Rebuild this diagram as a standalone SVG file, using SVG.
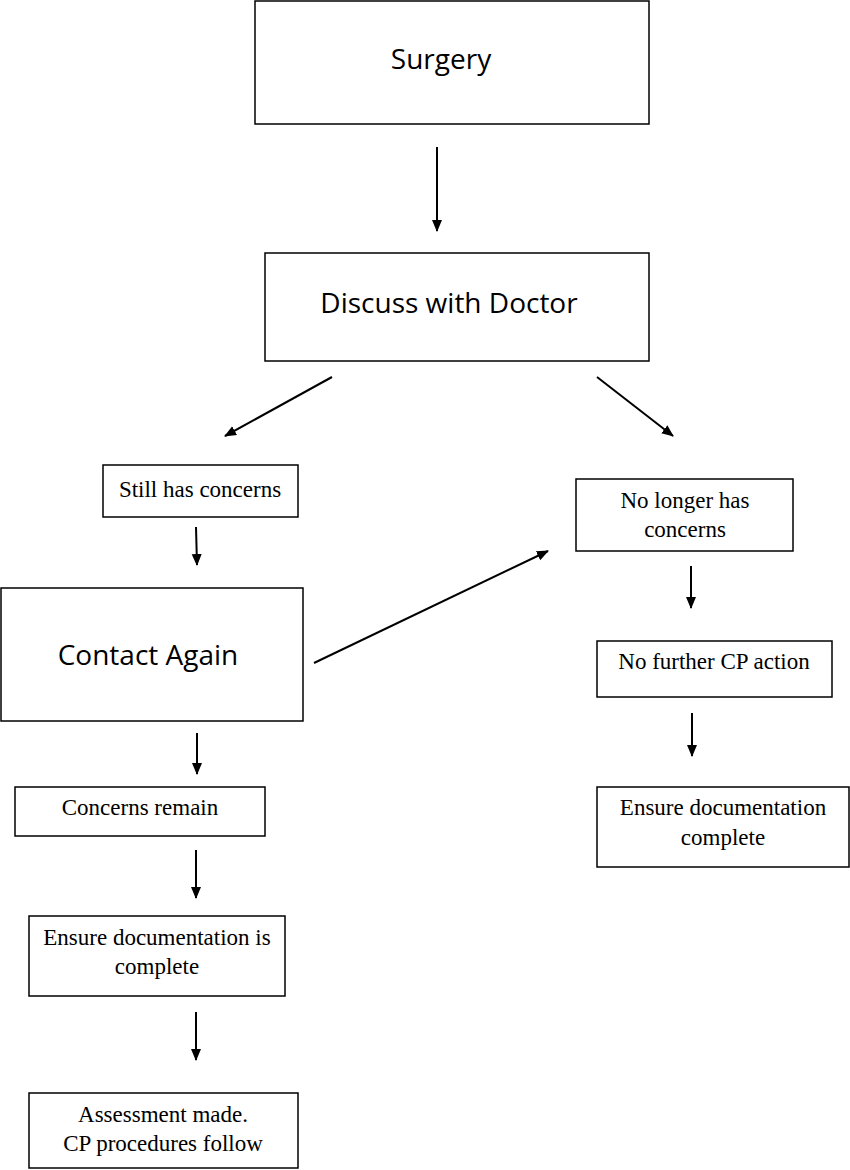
<svg xmlns="http://www.w3.org/2000/svg" width="850" height="1170" viewBox="0 0 850 1170">
<style>
.box{fill:#fff;stroke:#000;stroke-width:1.5}
.cal{font-family:"Open Sans","Noto Sans",sans-serif;font-size:28px;fill:#000;text-anchor:middle}
.tim{font-family:"Liberation Serif","Times New Roman",serif;font-size:23px;fill:#000;text-anchor:middle}
.con line{stroke:#000;stroke-width:2;marker-end:url(#ah)}
</style>
<defs>
<marker id="ah" markerUnits="userSpaceOnUse" markerWidth="12" markerHeight="12" viewBox="0 0 12 12" refX="11" refY="6" orient="auto">
<path d="M0,1 L12,6 L0,11 Z" fill="#000"/>
</marker>
</defs>
<rect width="850" height="1170" fill="#fff"/>
<g id="surgery"><rect class="box" x="255" y="1" width="394" height="123"/><text class="cal" x="441" y="69">Surgery</text></g>
<g id="discuss"><rect class="box" x="265" y="253" width="384" height="108"/><text class="cal" x="449" y="313">Discuss with Doctor</text></g>
<g id="still"><rect class="box" x="103" y="465" width="195" height="52"/><text class="tim" x="200" y="497">Still has concerns</text></g>
<g id="nolonger"><rect class="box" x="576" y="479" width="217" height="72"/><text class="tim" x="685" y="508">No longer has</text><text class="tim" x="685" y="537">concerns</text></g>
<g id="contact"><rect class="box" x="1" y="588" width="302" height="133"/><text class="cal" x="148" y="665">Contact Again</text></g>
<g id="remain"><rect class="box" x="15" y="787" width="250" height="49"/><text class="tim" x="140" y="815">Concerns remain</text></g>
<g id="ensure1"><rect class="box" x="29" y="916" width="256" height="80"/><text class="tim" x="157" y="945">Ensure documentation is</text><text class="tim" x="157" y="974">complete</text></g>
<g id="assess"><rect class="box" x="29" y="1093" width="269" height="75"/><text class="tim" x="163" y="1122">Assessment made.</text><text class="tim" x="163" y="1151">CP procedures follow</text></g>
<g id="nofurther"><rect class="box" x="597" y="641" width="235" height="56"/><text class="tim" x="714" y="669">No further CP action</text></g>
<g id="ensure2"><rect class="box" x="597" y="787" width="252" height="80"/><text class="tim" x="723" y="815">Ensure documentation</text><text class="tim" x="723" y="845">complete</text></g>
<g class="con" id="connectors">
<line x1="437" y1="147" x2="437" y2="231"/>
<line x1="332" y1="377" x2="225" y2="436"/>
<line x1="597" y1="377" x2="673" y2="436"/>
<line x1="196" y1="527" x2="197" y2="565"/>
<line x1="314" y1="663" x2="548" y2="551"/>
<line x1="197" y1="733" x2="197" y2="774"/>
<line x1="196" y1="850" x2="196" y2="898"/>
<line x1="196" y1="1012" x2="196" y2="1060"/>
<line x1="691" y1="566" x2="691" y2="608"/>
<line x1="692" y1="713" x2="692" y2="756"/>
</g>
</svg>
